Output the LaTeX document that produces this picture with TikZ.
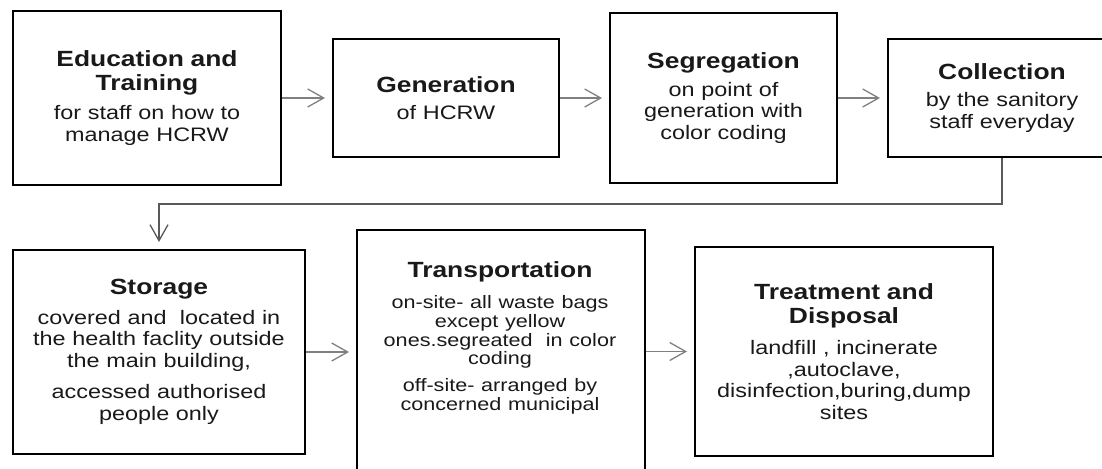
\documentclass[tikz,border=0pt]{standalone}
\usepackage{fontspec}
\newfontfamily\flowfont{Liberation Sans}[FakeStretch=1.2]
\usetikzlibrary{arrows.meta}

\newcommand{\headfont}{\flowfont\bfseries\fontsize{11}{11.75}\selectfont}
\newcommand{\bodyfont}{\flowfont\fontsize{9.75}{10.75}\selectfont}
\newcommand{\smallbody}{\flowfont\fontsize{9}{9.4}\selectfont}

\tikzset{
  stage/.style={draw, line width=1pt, rectangle, align=center, text=black!90, inner sep=2pt},
  flow/.style={draw=black!50, line width=0.65pt, -{Straight Barb[length=8pt,width=9pt,line width=0.65pt]}, shorten >=3.5pt},
  link/.style={flow, draw=black!65},
}

\begin{document}
\begin{tikzpicture}[x=0.5pt, y=-0.5pt]
\useasboundingbox (0,0) rectangle (1102,469);
% top row
\node[stage, minimum width=134pt, minimum height=87pt, text width=128pt] (edu) at (147,98)
  {{\headfont Education and\\ Training\par}\vspace{4pt}{\bodyfont for staff on how to\\ manage HCRW\par}};
\node[stage, minimum width=113pt, minimum height=59pt, text width=108pt] (gen) at (446,98)
  {{\headfont Generation\par}\vspace{3pt}{\bodyfont of HCRW\par}};
\node[stage, minimum width=113.5pt, minimum height=85pt, text width=108pt] (seg) at (723.5,98)
  {{\headfont Segregation\par}\vspace{3pt}{\bodyfont on point of\\ generation with\\ color coding\par}};
\node[stage, minimum width=114pt, minimum height=59pt, text width=108pt] (col) at (1002,98)
  {{\headfont Collection\par}\vspace{3pt}{\bodyfont by the sanitory\\ staff everyday\par}};
% bottom row
\node[stage, minimum width=146pt, minimum height=102pt, text width=140pt] (stor) at (159,352)
  {{\headfont Storage\par}\vspace{4pt}{\bodyfont covered and\ \ located in\\ the health\ faclity outside\\ the main\ building,\par}
   \vspace{5pt}{\bodyfont accessed authorised\\ people only\par}};
\node[stage, minimum width=144pt, minimum height=130pt, anchor=north west] (trans) at (356,229) {};
\node[align=center, text width=138pt, text=black!90] (transtext) at (500,338)
  {{\headfont Transportation\par}\vspace{6pt}{\smallbody on-site- all waste bags\\ except\ yellow\\ ones.segreated\ \ in color\\ coding\par}
   \vspace{4pt}{\smallbody off-site- arranged by\\ concerned municipal\par}};
\node[stage, minimum width=149pt, minimum height=104.5pt, text width=143pt] (treat) at (844,351.5)
  {{\headfont Treatment and\\ Disposal\par}\vspace{5pt}{\bodyfont landfill , incinerate\\ ,autoclave,\\ disinfection,buring,dump\\ sites\par}};

\coordinate (turn) at (600,204);
\draw[flow] (edu) -- (gen);
\draw[flow] (gen) -- (seg);
\draw[flow] (seg) -- (col);
\draw[link] (col.south) |- (turn) -| (stor.north);
\draw[flow] (stor.east) -- (stor.east -| trans.west);
\draw[flow] (trans.east |- treat.west) -- (treat.west);
\end{tikzpicture}
\end{document}
